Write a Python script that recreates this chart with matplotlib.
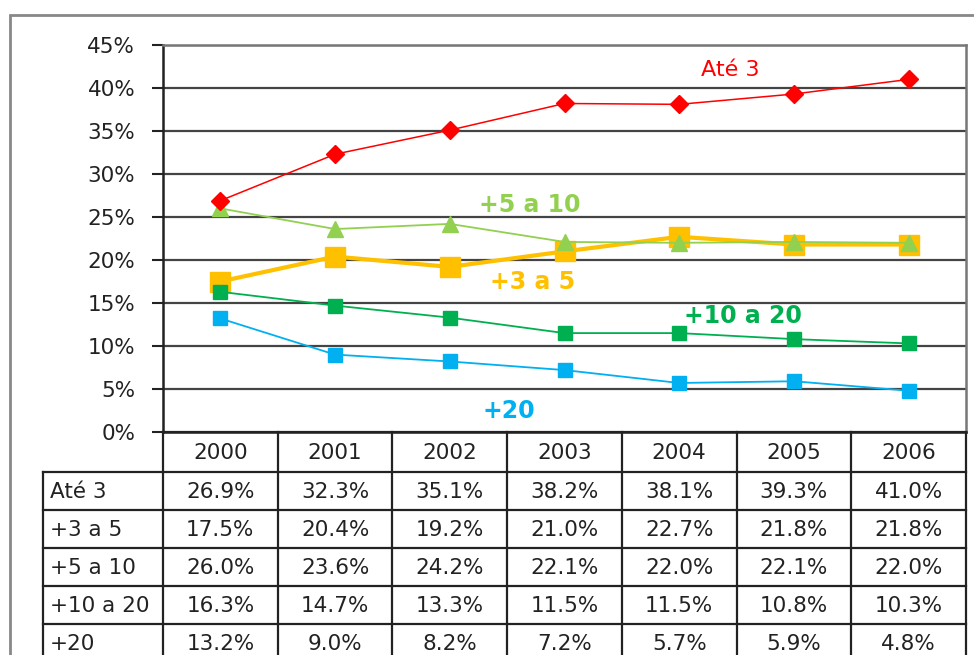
import matplotlib
matplotlib.use("Agg")
import matplotlib.pyplot as plt
from matplotlib.lines import Line2D
from matplotlib.patches import Rectangle

plt.rcParams['font.family'] = ['DejaVu Sans']

years = ["2000", "2001", "2002", "2003", "2004", "2005", "2006"]
series_names = ["Até 3", "+3 a 5", "+5 a 10", "+10 a 20", "+20"]
ate_3 = [26.9, 32.3, 35.1, 38.2, 38.1, 39.3, 41.0]
de_3_a_5 = [17.5, 20.4, 19.2, 21.0, 22.7, 21.8, 21.8]
de_5_a_10 = [26.0, 23.6, 24.2, 22.1, 22.0, 22.1, 22.0]
de_10_a_20 = [16.3, 14.7, 13.3, 11.5, 11.5, 10.8, 10.3]
mais_20 = [13.2, 9.0, 8.2, 7.2, 5.7, 5.9, 4.8]
y_ticks = [0, 5, 10, 15, 20, 25, 30, 35, 40, 45]

W, H = 974, 655
fig = plt.figure(figsize=(W / 100, H / 100), dpi=100)


def fx(px):
    return px / W


def fy(py):
    return 1 - py / H


TXT = "#222222"
FS = 15.5

# plot area in pixel coordinates
L, R, T, B = 163, 966, 45, 432
ax = fig.add_axes([fx(L), fy(B), fx(R) - fx(L), fy(T) - fy(B)])
ax.set_xlim(-0.5, len(years) - 0.5)
ax.set_ylim(0, 45)
ax.set_yticks(y_ticks)
ax.set_yticklabels([f"{t}%" for t in y_ticks], fontsize=FS, color=TXT)
ax.set_xticks([])
ax.tick_params(axis="y", length=8, width=1.5, color=TXT, pad=12)
for t in y_ticks[1:]:
    ax.axhline(t, color="#444444", lw=1.6, zorder=1)
for side in ["top", "right"]:
    ax.spines[side].set_color("#777777")
    ax.spines[side].set_linewidth(1.8)
for side in ["left", "bottom"]:
    ax.spines[side].set_color(TXT)
    ax.spines[side].set_linewidth(1.8)

x = list(range(len(years)))
ax.plot(x, ate_3, color="#FF0000", lw=1.1, marker="D", ms=9,
        markeredgecolor="#FF0000", zorder=5, clip_on=False)
ax.plot(x, de_5_a_10, color="#92D050", lw=1.3, marker="^", ms=11,
        markeredgecolor="#92D050", zorder=4, clip_on=False)
ax.plot(x, de_3_a_5, color="#FFC000", lw=3, marker="s", ms=14,
        markeredgecolor="#FFC000", zorder=3, clip_on=False)
ax.plot(x, de_10_a_20, color="#00B050", lw=1.3, marker="s", ms=10,
        markeredgecolor="#00B050", zorder=4, clip_on=False)
ax.plot(x, mais_20, color="#00B0F0", lw=1.3, marker="s", ms=10,
        markeredgecolor="#00B0F0", zorder=4, clip_on=False)

# series labels
fig.text(fx(730), fy(70), "Até 3", color="#FF0000", fontsize=16,
         ha="center", va="center")
fig.text(fx(530), fy(205), "+5 a 10", color="#92D050", fontsize=17,
         fontweight="bold", ha="center", va="center")
fig.text(fx(533), fy(282), "+3 a 5", color="#FFC000", fontsize=17,
         fontweight="bold", ha="center", va="center")
fig.text(fx(743), fy(316), "+10 a 20", color="#00B050", fontsize=17,
         fontweight="bold", ha="center", va="center")
fig.text(fx(509), fy(411), "+20", color="#00B0F0", fontsize=17,
         fontweight="bold", ha="center", va="center")

# data table below the plot
col_w = (R - L) / len(years)
header_top, header_bot = 432, 472
row_h = 38
label_left = 43
rows = [ate_3, de_3_a_5, de_5_a_10, de_10_a_20, mais_20]
line_kw = dict(color=TXT, lw=1.6, transform=fig.transFigure)


def hline(py, x0, x1):
    fig.add_artist(Line2D([fx(x0), fx(x1)], [fy(py), fy(py)], **line_kw))


def vline(px, y0, y1):
    fig.add_artist(Line2D([fx(px), fx(px)], [fy(y0), fy(y1)], **line_kw))


table_bottom = header_bot + row_h * len(rows)
hline(header_top, L, R)
hline(header_bot, label_left, R)
for i in range(1, len(rows) + 1):
    hline(header_bot + i * row_h, label_left, R)
for j in range(len(years) + 1):
    vline(L + j * col_w, header_top, table_bottom)
vline(label_left, header_bot, table_bottom)

for j, yr in enumerate(years):
    fig.text(fx(L + (j + 0.5) * col_w), fy((header_top + header_bot) / 2 + 1),
             yr, fontsize=FS, color=TXT, ha="center", va="center")
for i, (name, vals) in enumerate(zip(series_names, rows)):
    cy = header_bot + (i + 0.5) * row_h + 1
    fig.text(fx(label_left + 7), fy(cy), name, fontsize=FS,
             color=TXT, ha="left", va="center")
    for j, v in enumerate(vals):
        fig.text(fx(L + (j + 0.5) * col_w), fy(cy), f"{v:.1f}%",
                 fontsize=FS, color=TXT, ha="center", va="center")

# outer chart border
fig.add_artist(Rectangle((fx(10), fy(700)), fx(1000) - fx(10), fy(15) - fy(700),
                         transform=fig.transFigure, fill=False,
                         edgecolor="#888888", lw=2))

fig.savefig("out.png", dpi=100)
